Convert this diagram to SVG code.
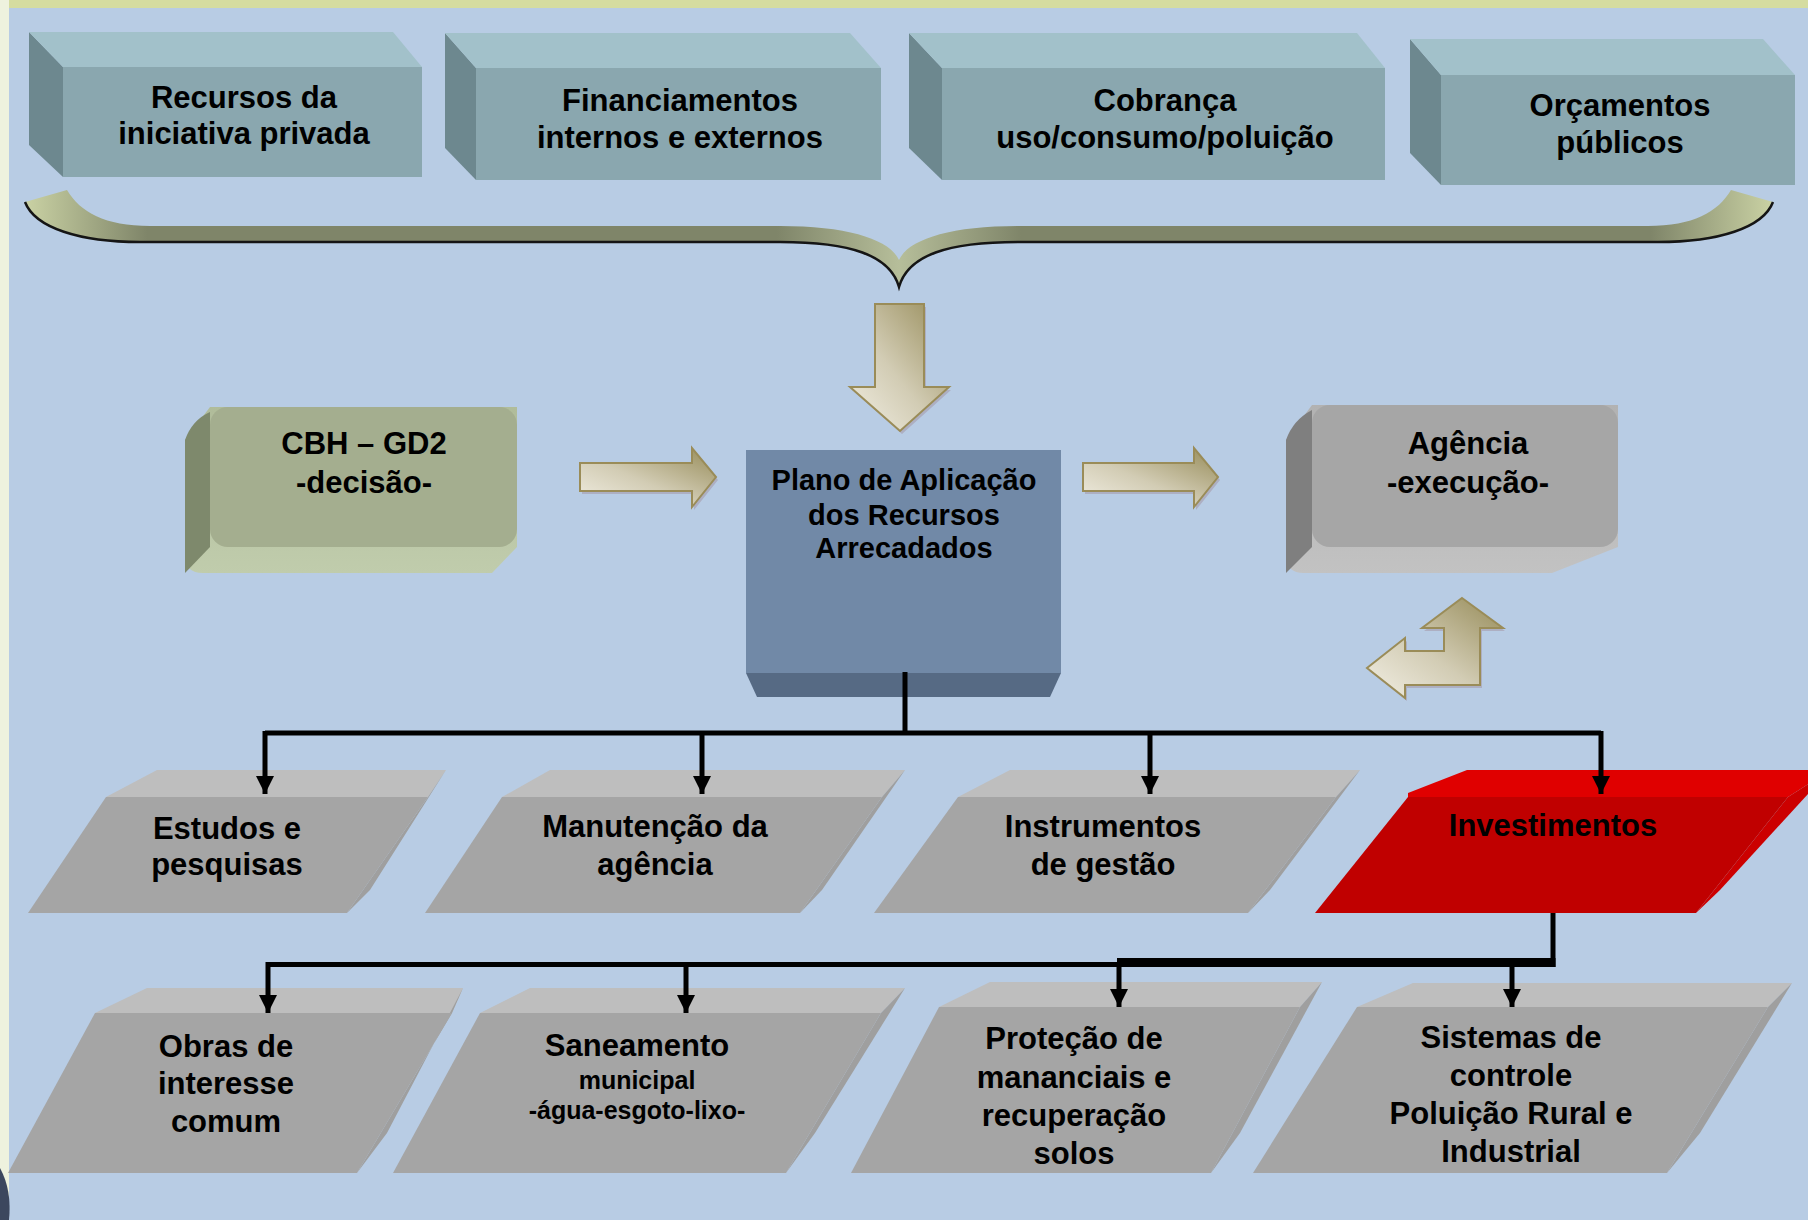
<svg xmlns="http://www.w3.org/2000/svg" width="1808" height="1220" viewBox="0 0 1808 1220">
<style>
text{font-family:"Liberation Sans",Arial,sans-serif;font-weight:bold;fill:#000;text-anchor:middle}
.t31{font-size:31px}
.t29{font-size:29px}
.t25{font-size:25px}
.conn{stroke:#000;stroke-width:5;fill:none}
.tf{fill:#A2C1CA}.lf{fill:#6D888F}.ff{fill:#8AA7AF}
.gtop{fill:#BEBEBE}.gfront{fill:#A5A5A5}.gside{fill:#9F9F9F}
.rtop{fill:#E00000}.rfront{fill:#C00000}.rside{fill:#CC0000}
.arr{fill:url(#ag);stroke:#9A8C58;stroke-width:2}
.shd{fill:#A08C9A;opacity:.45}
</style>
<defs>
<linearGradient id="ag" x1="0" y1="1" x2="1" y2="0">
<stop offset="0" stop-color="#F2EFE4"/><stop offset="0.45" stop-color="#D2CCB4"/><stop offset="1" stop-color="#968B58"/>
</linearGradient>
<linearGradient id="bg" gradientUnits="userSpaceOnUse" x1="25" y1="0" x2="1773" y2="0">
<stop offset="0" stop-color="#CAD2A4"/><stop offset="0.07" stop-color="#7F8569"/><stop offset="0.43" stop-color="#7F8569"/><stop offset="0.5" stop-color="#B6BE9A"/><stop offset="0.57" stop-color="#7F8569"/><stop offset="0.93" stop-color="#7F8569"/><stop offset="1" stop-color="#CAD2A4"/>
</linearGradient>
<linearGradient id="cbhBot" x1="0" y1="0" x2="0" y2="1"><stop offset="0" stop-color="#B0BC9A"/><stop offset="1" stop-color="#C0CCAC"/></linearGradient>
<linearGradient id="agBot" x1="0" y1="0" x2="0" y2="1"><stop offset="0" stop-color="#B2B2B2"/><stop offset="1" stop-color="#C2C2C2"/></linearGradient>
<marker id="ah" markerUnits="userSpaceOnUse" markerWidth="18" markerHeight="18" viewBox="0 0 18 18" refX="18" refY="9" orient="auto">
<path d="M0,0 L18,9 L0,18 Z" fill="#000"/>
</marker>
</defs>

<!-- background -->
<rect x="0" y="0" width="1808" height="1220" fill="#B8CCE4"/>
<rect x="0" y="0" width="1808" height="8" fill="#D5DCA0"/>
<rect x="0" y="0" width="9" height="1220" fill="#EEF2DE"/>
<path d="M0,1168 Q12,1190 9,1220 L0,1220 Z" fill="#3C475E"/>

<!-- top source boxes -->
<g id="recursos-privada">
<polygon class="lf" points="29,32 63,67 63,177 29,145"/>
<polygon class="tf" points="29,32 393,32 422,67 63,67"/>
<rect class="ff" x="63" y="67" width="359" height="110"/>
<text class="t31" x="244" y="108">Recursos da</text>
<text class="t31" x="244" y="144">iniciativa privada</text>
</g>
<g id="financiamentos">
<polygon class="lf" points="445,33 476,68 476,180 445,148"/>
<polygon class="tf" points="445,33 850,33 881,68 476,68"/>
<rect class="ff" x="476" y="68" width="405" height="112"/>
<text class="t31" x="680" y="111">Financiamentos</text>
<text class="t31" x="680" y="148">internos e externos</text>
</g>
<g id="cobranca">
<polygon class="lf" points="909,33 942,68 942,180 909,148"/>
<polygon class="tf" points="909,33 1357,33 1385,68 942,68"/>
<rect class="ff" x="942" y="68" width="443" height="112"/>
<text class="t31" x="1165" y="111">Cobrança</text>
<text class="t31" x="1165" y="148">uso/consumo/poluição</text>
</g>
<g id="orcamentos">
<polygon class="lf" points="1410,39 1441,75 1441,185 1410,153"/>
<polygon class="tf" points="1410,39 1763,39 1795,75 1441,75"/>
<rect class="ff" x="1441" y="75" width="354" height="110"/>
<text class="t31" x="1620" y="116">Orçamentos</text>
<text class="t31" x="1620" y="153">públicos</text>
</g>

<!-- brace -->
<g id="brace">
<path d="M25,202 L67,190 C80,212 105,226 150,226 L780,226 C850,226 890,240 899,260 C908,240 948,226 1018,226 L1648,226 C1693,226 1718,212 1731,190 L1773,202 C1763,228 1718,242 1658,242 L1018,242 C948,242 908,255 899,287 C890,255 850,242 780,242 L140,242 C80,242 35,228 25,202 Z" fill="url(#bg)"/>
<path d="M25,202 C35,228 80,242 140,242 L780,242 C850,242 890,255 899,287 C908,255 948,242 1018,242 L1658,242 C1718,242 1763,228 1773,202" fill="none" stroke="#151515" stroke-width="2.5"/>
</g>

<!-- block arrows -->
<g id="block-arrows">
<path class="shd" d="M877,307 L926,307 L926,390 L951,390 L902,434 L852,390 L877,390 Z"/>
<path class="arr" d="M875,304 L924,304 L924,387 L949,387 L900,431 L850,387 L875,387 Z"/>
<path class="shd" d="M582,466 L694,466 L694,451 L718,480 L694,510 L694,494 L582,494 Z"/>
<path class="arr" d="M580,463 L692,463 L692,448 L716,477 L692,507 L692,491 L580,491 Z"/>
<path class="shd" d="M1085,466 L1196,466 L1196,451 L1220,480 L1196,510 L1196,494 L1085,494 Z"/>
<path class="arr" d="M1083,463 L1194,463 L1194,448 L1218,477 L1194,507 L1194,491 L1083,491 Z"/>
<path class="shd" d="M1464,601 L1505,631 L1482,631 L1482,688 L1407,688 L1407,701 L1369,671 L1407,641 L1407,654 L1446,654 L1446,631 L1424,631 Z"/>
<path class="arr" d="M1462,598 L1503,628 L1480,628 L1480,685 L1405,685 L1405,698 L1367,668 L1405,638 L1405,651 L1444,651 L1444,628 L1422,628 Z"/>
</g>

<!-- CBH -->
<g id="cbh">
<path d="M210,407 L517,407 L517,547 L492,573 L203,573 Q185,573 185,555 L185,440 Z" fill="url(#cbhBot)"/>
<path d="M210,420 L210,547 L185,573 L185,440 Q192,420 210,412 Z" fill="#7E896C"/>
<rect x="210" y="407" width="307" height="140" rx="18" fill="#A4AE8F"/>
<text class="t31" x="364" y="454">CBH – GD2</text>
<text class="t31" x="364" y="493">-decisão-</text>
</g>

<!-- Plano -->
<g id="plano">
<polygon points="746,673 1061,673 1050,697 757,697" fill="#566A84"/>
<rect x="746" y="450" width="315" height="223" fill="#7189A7"/>
<text class="t29" x="904" y="490">Plano de Aplicação</text>
<text class="t29" x="904" y="525">dos Recursos</text>
<text class="t29" x="904" y="558">Arrecadados</text>
</g>

<!-- Agencia -->
<g id="agencia">
<path d="M1312,405 L1618,405 L1618,547 L1552,573 L1304,573 Q1286,573 1286,555 L1286,440 Z" fill="url(#agBot)"/>
<path d="M1312,420 L1312,547 L1286,573 L1286,440 Q1293,420 1312,410 Z" fill="#7F7F7F"/>
<rect x="1312" y="405" width="306" height="142" rx="18" fill="#A6A6A6"/>
<text class="t31" x="1468" y="454">Agência</text>
<text class="t31" x="1468" y="493">-execução-</text>
</g>

<!-- row 2 -->
<g id="estudos">
<polygon class="gtop" points="106,797 157,770 446,770 428,797"/>
<polygon class="gside" points="428,797 446,770 370,890 347,913"/>
<polygon class="gfront" points="106,797 428,797 347,913 28,913"/>
<text class="t31" x="227" y="839">Estudos e</text>
<text class="t31" x="227" y="875">pesquisas</text>
</g>
<g id="manutencao">
<polygon class="gtop" points="502,797 550,770 905,770 882,797"/>
<polygon class="gside" points="882,797 905,770 822,890 800,913"/>
<polygon class="gfront" points="502,797 882,797 800,913 425,913"/>
<text class="t31" x="655" y="837">Manutenção da</text>
<text class="t31" x="655" y="875">agência</text>
</g>
<g id="instrumentos">
<polygon class="gtop" points="958,797 1010,770 1360,770 1336,797"/>
<polygon class="gside" points="1336,797 1360,770 1270,890 1248,913"/>
<polygon class="gfront" points="958,797 1336,797 1248,913 874,913"/>
<text class="t31" x="1103" y="837">Instrumentos</text>
<text class="t31" x="1103" y="875">de gestão</text>
</g>
<g id="investimentos">
<polygon class="rtop" points="1408,793 1467,770 1830,770 1788,797 1408,797"/>
<polygon class="rside" points="1788,797 1830,770 1720,890 1696,913"/>
<polygon class="rfront" points="1408,797 1788,797 1696,913 1315,913"/>
<text class="t31" x="1553" y="836">Investimentos</text>
</g>

<!-- row 3 -->
<g id="obras">
<polygon class="gtop" points="95,1013 147,988 463,988 452,1013"/>
<polygon class="gside" points="452,1013 463,988 387,1133 357,1173"/>
<polygon class="gfront" points="95,1013 452,1013 357,1173 8,1173"/>
<text class="t31" x="226" y="1057">Obras de</text>
<text class="t31" x="226" y="1094">interesse</text>
<text class="t31" x="226" y="1132">comum</text>
</g>
<g id="saneamento">
<polygon class="gtop" points="480,1013 530,988 905,988 881,1013"/>
<polygon class="gside" points="881,1013 905,988 815,1133 786,1173"/>
<polygon class="gfront" points="480,1013 881,1013 786,1173 393,1173"/>
<text class="t31" x="637" y="1056">Saneamento</text>
<text class="t25" x="637" y="1089">municipal</text>
<text class="t25" x="637" y="1119">-água-esgoto-lixo-</text>
</g>
<g id="protecao">
<polygon class="gtop" points="939,1007 990,982 1322,982 1300,1007"/>
<polygon class="gside" points="1300,1007 1322,982 1240,1133 1211,1173"/>
<polygon class="gfront" points="939,1007 1300,1007 1211,1173 851,1173"/>
<text class="t31" x="1074" y="1049">Proteção de</text>
<text class="t31" x="1074" y="1088">mananciais e</text>
<text class="t31" x="1074" y="1126">recuperação</text>
<text class="t31" x="1074" y="1164">solos</text>
</g>
<g id="sistemas">
<polygon class="gtop" points="1357,1007 1413,983 1792,983 1768,1007"/>
<polygon class="gside" points="1768,1007 1792,983 1700,1133 1667,1173"/>
<polygon class="gfront" points="1357,1007 1768,1007 1667,1173 1253,1173"/>
<text class="t31" x="1511" y="1048">Sistemas de</text>
<text class="t31" x="1511" y="1086">controle</text>
<text class="t31" x="1511" y="1124">Poluição Rural e</text>
<text class="t31" x="1511" y="1162">Industrial</text>
</g>

<!-- connectors -->
<g id="connectors">
<path class="conn" d="M905,672 V733 M265,733 H1601"/>
<line class="conn" x1="265" y1="731" x2="265" y2="794" marker-end="url(#ah)"/>
<line class="conn" x1="702" y1="731" x2="702" y2="794" marker-end="url(#ah)"/>
<line class="conn" x1="1150" y1="731" x2="1150" y2="794" marker-end="url(#ah)"/>
<line class="conn" x1="1601" y1="731" x2="1601" y2="794" marker-end="url(#ah)"/>
<path class="conn" d="M1553,913 V967 M268,964.5 H1117"/>
<path d="M1117,962.5 H1555.5" stroke="#000" stroke-width="9" fill="none"/>
<line class="conn" x1="268" y1="962" x2="268" y2="1013" marker-end="url(#ah)"/>
<line class="conn" x1="686" y1="962" x2="686" y2="1013" marker-end="url(#ah)"/>
<line class="conn" x1="1119" y1="962" x2="1119" y2="1007" marker-end="url(#ah)"/>
<line class="conn" x1="1512" y1="962" x2="1512" y2="1007" marker-end="url(#ah)"/>
</g>
</svg>
